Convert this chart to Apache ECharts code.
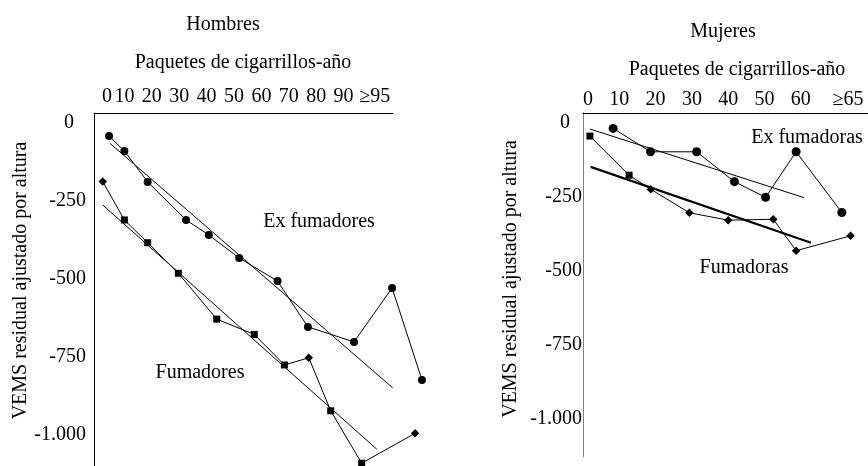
<!DOCTYPE html>
<html>
<head>
<meta charset="utf-8">
<script src="https://cdn.jsdelivr.net/npm/echarts@6/dist/echarts.min.js"></script>
<style>
  html, body { margin: 0; padding: 0; background: #fff; }
  #chart { width: 868px; height: 466px; }
</style>
</head>
<body>
<div id="chart"></div>
<script>
// pack-years ticks for each panel
const xTicksHombres = [0, 10, 20, 30, 40, 50, 60, 70, 80, 90, 95];
const xTicksMujeres = [0, 10, 20, 30, 40, 50, 60, 65];
const yTicks = [0, -250, -500, -750, -1000];

// Hombres: [pack-years, residual FEV1 (ml)]
const hombresEx = [[4.4, -42], [10.0, -90], [18.5, -189], [32.5, -311], [40.8, -359], [51.9, -433],
  [65.9, -507], [77.0, -654], [93.8, -702], [107.7, -529], [118.6, -824]];
const hombresFum = [[2.1, -188], [10.0, -311], [18.5, -384], [29.7, -482], [43.7, -629], [57.4, -678],
  [68.4, -776], [77.3, -753], [85.3, -923], [96.6, -1091], [116.1, -995]];
const hombresExFit = [[4.7, -65], [107.9, -849]];
const hombresFumFit = [[2.1, -263], [102.1, -1046]];

// Mujeres
const mujeresEx = [[8.3, -18], [18.6, -97], [31.3, -97], [41.7, -198], [50.3, -251], [58.7, -97], [71.3, -302]];
const mujeresFum = [[1.9, -44], [12.7, -176], [18.7, -224], [29.3, -303], [40.0, -328], [52.4, -325],
  [58.7, -431], [73.7, -381]];
const mujeresExFit = [[1.9, -20], [60.9, -252]];
const mujeresFumFit = [[2.1, -148], [62.8, -404]];

const FONT = 'Liberation Serif';
const txt = { fontFamily: FONT, fontSize: 20, color: '#000' };

function yLabel(v) {
  if (v === 0) return '{z|0}';
  return v === -1000 ? '-1.000' : String(v);
}

function xAxisFor(gridIndex, min, max, ticks, lastLabel, pad0, padLast, margin) {
  return {
    gridIndex: gridIndex, type: 'value', position: 'top', min: min, max: max,
    axisLine: { show: true, onZero: false, lineStyle: { color: '#000', width: 1 } },
    axisTick: { show: false },
    splitLine: { show: false },
    axisLabel: {
      customValues: ticks, margin: margin, showMinLabel: true, showMaxLabel: true,
      fontFamily: FONT, fontSize: 20, color: '#000',
      formatter: function (v) {
        if (v === 0) return '{a|0}';
        if (v === ticks[ticks.length - 1]) return '{b|' + lastLabel + '}';
        return String(v);
      },
      rich: {
        a: Object.assign({ padding: [0, 0, 0, pad0] }, txt),
        b: Object.assign({ padding: [0, 0, 0, padLast] }, txt)
      }
    }
  };
}

function yAxisFor(gridIndex, min, max, lineColor, margin, nameShift) {
  return {
    gridIndex: gridIndex, type: 'value', min: min, max: max,
    name: 'VEMS residual ajustado por altura', nameLocation: 'middle', nameRotate: 90, nameGap: 62,
    nameTextStyle: Object.assign({ padding: [0, 0, 0, nameShift] }, txt),
    axisLine: { show: true, onZero: false, lineStyle: { color: lineColor, width: 1 } },
    axisTick: { show: false },
    splitLine: { show: false },
    axisLabel: {
      customValues: yTicks, margin: margin, fontFamily: FONT, fontSize: 20, color: '#000',
      formatter: yLabel,
      rich: { z: Object.assign({ padding: [0, 12, 0, 0] }, txt) }
    }
  };
}

function fitLine(data, xi, width) {
  return {
    type: 'line', xAxisIndex: xi, yAxisIndex: xi, data: data, symbol: 'none', clip: false,
    lineStyle: { color: '#000', width: width }, silent: true
  };
}

function markerLine(data, xi, symbol, size, rotated) {
  return {
    type: 'line', xAxisIndex: xi, yAxisIndex: xi, clip: false,
    data: data.map(function (d, i) {
      return rotated && rotated.indexOf(i) >= 0 ? { value: d, symbolRotate: 45, symbolSize: size - 1 } : d;
    }),
    symbol: symbol, symbolSize: size, showSymbol: true,
    itemStyle: { color: '#000' },
    lineStyle: { color: '#000', width: 1 }
  };
}

function label(text, x, y) {
  return {
    type: 'text', x: x, y: y, silent: true,
    style: {
      text: text, font: '20px "' + FONT + '"', fill: '#000',
      align: 'center', verticalAlign: 'middle', textAlign: 'center', textVerticalAlign: 'middle'
    }
  };
}

// the "≥95" group of the men's panel lies past the end of the drawn axis line,
// so its data go on a wider, invisible grid with the same scale
const hiddenX = { gridIndex: 1, type: 'value', min: -1.09, max: 121.54, show: false };
const hiddenY = { gridIndex: 1, type: 'value', min: -1100, max: 32, show: false };

const chart = echarts.init(document.getElementById('chart'), null, { renderer: 'canvas' });
chart.setOption({
  animation: false,
  backgroundColor: '#fff',
  grid: [
    { left: 94, top: 113, width: 299, height: 353 },
    { left: 94, top: 113, width: 336, height: 353 },
    { left: 583, top: 113, width: 285, height: 344 }
  ],
  xAxis: [
    xAxisFor(0, -1.09, 108.03, xTicksHombres, '≥95', 20, 35, 6),
    hiddenX,
    xAxisFor(2, 0, 78.5, xTicksMujeres, '≥65', 10, 58, 3)
  ],
  yAxis: [
    yAxisFor(0, -1100, 32, '#000', 8, 18),
    hiddenY,
    yAxisFor(2, -1128, 34, '#808080', 1, 12)
  ],
  graphic: [
    label('Hombres', 223, 25),
    label('Paquetes de cigarrillos-año', 243, 63),
    label('Mujeres', 723, 32),
    label('Paquetes de cigarrillos-año', 737, 70),
    label('Ex fumadores', 319, 222),
    label('Fumadores', 200, 373),
    label('Ex fumadoras', 807, 138),
    label('Fumadoras', 744, 268)
  ],
  series: [
    fitLine(hombresExFit, 1, 1),
    fitLine(hombresFumFit, 1, 1),
    markerLine(hombresEx, 1, 'circle', 8),
    markerLine(hombresFum, 1, 'rect', 7, [0, 7, 10]),
    fitLine(mujeresExFit, 2, 1),
    fitLine(mujeresFumFit, 2, 2.2),
    markerLine(mujeresEx, 2, 'circle', 9),
    markerLine(mujeresFum, 2, 'rect', 7, [2, 3, 4, 5, 6, 7])
  ]
});
</script>
</body>
</html>
